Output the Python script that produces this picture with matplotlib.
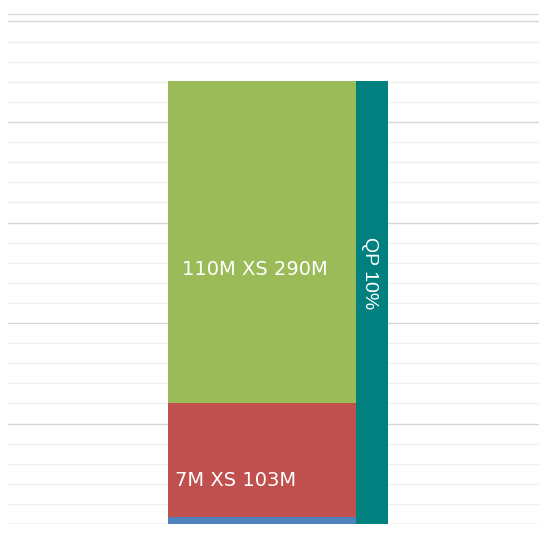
import matplotlib
matplotlib.use('Agg')
import matplotlib.pyplot as plt
import numpy as np

# ── Data: layer tower (display heights in grid steps) ─────────────
layers      = ["base", "7M XS 103M", "110M XS 290M"]
heights     = [0.33, 5.7, 16.0]
layer_cols  = ["#4F81BD", "#C0504D", "#9BBB59"]
show_label  = [False, True, True]

qp_label    = "QP 10%"
qp_col      = "#00807E"

# label placement (fraction of layer height, x offset in px)
label_frac  = [0.5, 0.326, 0.413]
label_dx    = [0, 7, 14]

# ── Figure ───────────────────────────────────────────────────────
W, H = 539, 533
fig = plt.figure(figsize=(W / 100, H / 100), dpi=100, facecolor="white")
ax = fig.add_axes([8 / W, (H - 524) / H, 1 - 8 / W, (524 - 14) / H])
ymax = (524 - 14) / 20.1
ax.set_xlim(0, 1)
ax.set_ylim(0, ymax)

# gridlines: minor every step, major every 5
for y in np.arange(1, ymax, 1):
    major = abs(y % 5) < 1e-9
    ax.axhline(y, color="#d6d6d6" if major else "#efefef",
               lw=1.0 if major else 0.9, zorder=0)
ax.axhline(0, color="#d0d0d0", lw=1.0, zorder=0)

# stacked layers
x0, w = (168 - 8) / 531, (356 - 168) / 531
bottom = 0
for lab, h, c, show, fr, dx in zip(layers, heights, layer_cols, show_label,
                                   label_frac, label_dx):
    ax.bar(x0, h, width=w, bottom=bottom, color=c, align="edge",
           linewidth=0, zorder=2)
    if show:
        ax.text(x0 + dx / 531, bottom + h * fr, lab, color="white",
                fontsize=14, va="center", ha="left",
                family="DejaVu Sans", zorder=3)
    bottom += h

# quota share column
qx, qw = (356 - 8) / 531, (388 - 356) / 531
ax.bar(qx, sum(heights), width=qw, bottom=0, color=qp_col, align="edge",
       linewidth=0, zorder=2)
ax.text(qx + qw / 2 - 2 / 531, 12.5, qp_label, rotation=270, color="white",
        fontsize=14, ha="center", va="center", family="Liberation Sans",
        zorder=3)

ax.set_xticks([]); ax.set_yticks([])
for s in ["left", "right", "bottom"]:
    ax.spines[s].set_visible(False)
ax.spines["top"].set_color("#dcdcdc")
ax.spines["top"].set_linewidth(1.0)

fig.savefig("out.png", dpi=100, facecolor="white")
